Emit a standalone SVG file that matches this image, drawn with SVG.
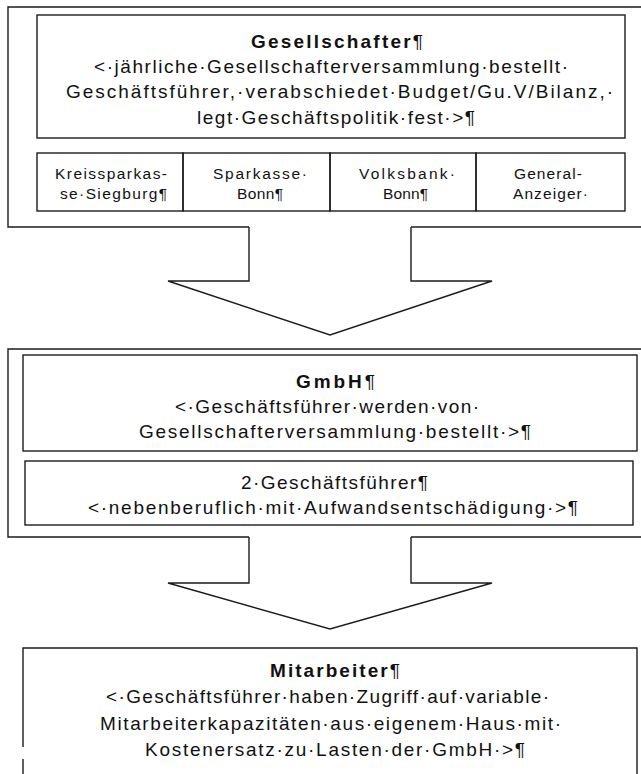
<svg xmlns="http://www.w3.org/2000/svg" width="641" height="774" viewBox="0 0 641 774">
<style>
.ln{fill:none;stroke:#1c1c1c;stroke-width:1.4}
.t{font-family:"Liberation Sans",Arial,sans-serif;font-size:19px;fill:#111}
.s{font-size:15.5px}
.b{font-weight:bold}
.n{font-weight:normal}
</style>
<rect x="0" y="0" width="641" height="774" fill="#fff"/>
<g id="gesellschafter-frame">
<path class="ln" d="M249,227 H8 V7 H645 M411,227 H645"/>
</g>
<g id="gesellschafter">
<rect class="ln" x="37" y="15" width="588" height="123"/>
<text class="t b" x="251" y="48" textLength="172" lengthAdjust="spacing">Gesellschafter<tspan class="n">¶</tspan></text>
<text class="t" x="94" y="73" textLength="474" lengthAdjust="spacing">&lt;·jährliche·Gesellschafterversammlung·bestellt·</text>
<text class="t" x="66" y="98" textLength="547" lengthAdjust="spacing">Geschäftsführer,·verabschiedet·Budget/Gu.V/Bilanz,·</text>
<text class="t" x="197" y="124" textLength="278" lengthAdjust="spacing">legt·Geschäftspolitik·fest·&gt;¶</text>
</g>
<g id="kreissparkasse">
<rect class="ln" x="37" y="153" width="146" height="58"/>
<text class="t s" x="55" y="179" textLength="112" lengthAdjust="spacing">Kreissparkas-</text>
<text class="t s" x="60" y="199" textLength="107" lengthAdjust="spacing">se·Siegburg¶</text>
</g>
<g id="sparkasse">
<rect class="ln" x="183" y="153" width="147" height="58"/>
<text class="t s" x="213" y="179" textLength="94" lengthAdjust="spacing">Sparkasse·</text>
<text class="t s" x="237" y="199" textLength="46" lengthAdjust="spacing">Bonn¶</text>
</g>
<g id="volksbank">
<rect class="ln" x="330" y="153" width="146" height="58"/>
<text class="t s" x="359" y="179" textLength="96" lengthAdjust="spacing">Volksbank·</text>
<text class="t s" x="383" y="199" textLength="45" lengthAdjust="spacing">Bonn¶</text>
</g>
<g id="general-anzeiger">
<rect class="ln" x="476" y="153" width="149" height="58"/>
<text class="t s" x="514" y="179" textLength="68" lengthAdjust="spacing">General-</text>
<text class="t s" x="513" y="199" textLength="75" lengthAdjust="spacing">Anzeiger·</text>
</g>
<g id="gmbh-frame">
<path class="ln" d="M249,537 H8 V349 H645 M411,537 H645"/>
</g>
<g id="gmbh">
<rect class="ln" x="23" y="355" width="614" height="96"/>
<text class="t b" x="296" y="388" textLength="79" lengthAdjust="spacing">GmbH<tspan class="n">¶</tspan></text>
<text class="t" x="175" y="413" textLength="304" lengthAdjust="spacing">&lt;·Geschäftsführer·werden·von·</text>
<text class="t" x="139" y="438" textLength="392" lengthAdjust="spacing">Gesellschafterversammlung·bestellt·&gt;¶</text>
</g>
<g id="geschaeftsfuehrer">
<rect class="ln" x="25" y="461" width="608" height="64"/>
<text class="t" x="241" y="489" textLength="187" lengthAdjust="spacing">2·Geschäftsführer¶</text>
<text class="t" x="88" y="514" textLength="490" lengthAdjust="spacing">&lt;·nebenberuflich·mit·Aufwandsentschädigung·&gt;¶</text>
</g>
<g id="mitarbeiter">
<path class="ln" d="M23,800 V648 H637 V800"/>
<rect x="21" y="747" width="5" height="12" fill="#fff"/>
<text class="t b" x="270" y="677" textLength="130" lengthAdjust="spacing">Mitarbeiter<tspan class="n">¶</tspan></text>
<text class="t" x="106" y="703" textLength="443" lengthAdjust="spacing">&lt;·Geschäftsführer·haben·Zugriff·auf·variable·</text>
<text class="t" x="100" y="730" textLength="461" lengthAdjust="spacing">Mitarbeiterkapazitäten·aus·eigenem·Haus·mit·</text>
<text class="t" x="145" y="756" textLength="380" lengthAdjust="spacing">Kostenersatz·zu·Lasten·der·GmbH·&gt;¶</text>
</g>
<g id="connectors">
<path class="ln" d="M249,227 V281 H168 L330,335 L492,281 H411 V227"/>
<path class="ln" d="M249,537 V583 H168 L330,629 L492,583 H411 V537"/>
</g>
</svg>
